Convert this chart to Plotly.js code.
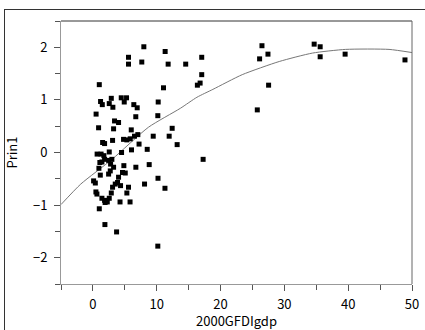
<!DOCTYPE html>
<html>
<head>
<meta charset="utf-8">
<script src="https://cdn.plot.ly/plotly-3.0.1.min.js"></script>
<style>
  html, body { margin: 0; padding: 0; background: #fff; }
  #wrap { position: relative; width: 425px; height: 330px; overflow: hidden; }
  #frame { position: absolute; left: 4px; top: 9px; width: 440px; height: 340px;
           border-left: 1px solid #333; border-top: 1px solid #333; pointer-events: none; }
  #chart { position: absolute; left: 0; top: 0; width: 425px; height: 330px; }
</style>
</head>
<body>
<div id="wrap">
  <div id="chart"></div>
  <div id="frame"></div>
</div>
<script>
// Scatter data: x = 2000GFDIgdp, y = Prin1
const gfdi = [7.98, 11.32, 5.58, 5.58, 7.66, 11.79, 14.54, 17.05, 17.05, 16.80,
  16.37, 11.06, 1.00, 1.20, 1.47, 2.88, 2.56, 3.13, 4.44, 5.27,
  4.91, 6.41, 6.94, 10.23, 0.50, 6.72, 10.17, 3.39, 4.02, 0.89,
  3.24, 6.01, 12.42, 9.45, 11.95, 6.52, 7.04, 4.80, 5.32, 5.85,
  3.08, 1.52, 1.83, 7.23, 13.20, 6.05, 2.56, 4.49, 8.51, 0.66,
  1.28, 1.72, 1.83, 2.46, 2.97, 1.41, 17.27, 1.09, 2.77, 4.85,
  8.82, 6.73, 3.24, 0.94, 2.72, 2.46, 4.64, 5.07, 1.16, 0.11,
  0.38, 4.02, 3.86, 3.50, 3.08, 4.33, 5.58, 8.09, 10.20, 11.29,
  0.47, 0.63, 2.88, 5.32, 1.41, 1.83, 2.25, 2.56, 1.91, 4.25,
  5.82, 1.00, 1.88, 3.71, 10.17, 26.49, 27.43, 26.12, 27.53, 25.76,
  34.67, 35.61, 35.61, 39.52, 48.90];
const prin1 = [2.01, 1.92, 1.81, 1.68, 1.72, 1.68, 1.68, 1.81, 1.48, 1.32,
  1.28, 1.23, 1.29, 0.97, 0.91, 1.03, 0.93, 0.86, 1.04, 1.04,
  0.96, 0.91, 0.85, 0.96, 0.73, 0.68, 0.70, 0.60, 0.57, 0.47,
  0.45, 0.43, 0.46, 0.31, 0.31, 0.31, 0.34, 0.25, 0.24, 0.26,
  0.23, 0.19, 0.17, 0.16, 0.15, 0.05, 0.01, 0.00, 0.06, -0.03,
  -0.03, -0.06, -0.13, -0.15, -0.13, -0.18, -0.13, -0.19, -0.22, -0.25,
  -0.23, -0.28, -0.28, -0.30, -0.35, -0.41, -0.38, -0.39, -0.43, -0.54,
  -0.58, -0.47, -0.57, -0.60, -0.66, -0.63, -0.66, -0.60, -0.49, -0.68,
  -0.75, -0.79, -0.77, -0.77, -0.87, -0.91, -0.94, -0.87, -0.95, -0.94,
  -0.94, -1.07, -1.37, -1.51, -1.78, 2.03, 1.87, 1.78, 1.28, 0.81,
  2.06, 2.01, 1.82, 1.87, 1.76];

// Fitted smooth curve
const fitX = [-5, -1.9, 3.0, 8.7, 13.7, 16.3, 18.8, 23.4, 29.2, 34.4, 39.6, 46.4, 50];
const fitY = [-0.99, -0.60, -0.13, 0.48, 0.84, 1.05, 1.20, 1.48, 1.73, 1.89, 1.96, 1.96, 1.90];

const xTickVals = [0, 10, 20, 30, 40, 50];
const yTickVals = [-2, -1, 0, 1, 2];

const fontFam = '"Noto Sans CJK JP", "DejaVu Sans", sans-serif';

const traces = [
  {
    x: fitX, y: fitY, type: 'scatter', mode: 'lines',
    line: { color: '#777777', width: 1, shape: 'spline', smoothing: 0.6 },
    hoverinfo: 'skip', showlegend: false
  },
  {
    x: gfdi, y: prin1, type: 'scatter', mode: 'markers',
    marker: { symbol: 'square', size: 5, color: '#000000' },
    showlegend: false
  }
];

const layout = {
  width: 425, height: 330,
  margin: { l: 61, r: 13, t: 21, b: 46, pad: 0 },
  paper_bgcolor: '#ffffff', plot_bgcolor: '#ffffff',
  font: { family: fontFam, size: 13, color: '#000' },
  showlegend: false,
  xaxis: {
    range: [-5, 50], tickmode: 'array', tickvals: xTickVals,
    ticks: 'outside', ticklen: 6, tickcolor: '#555', tickwidth: 1,
    minor: { tickmode: 'linear', tick0: -5, dtick: 5, ticks: 'outside', ticklen: 5, tickcolor: '#555' },
    showline: true, linecolor: '#999', linewidth: 1,
    showgrid: false, zeroline: false,
    ticklabelstandoff: 2,
    tickfont: { family: fontFam, size: 13, color: '#000' },
    title: { text: '2000GFDIgdp', font: { family: fontFam, size: 13, color: '#000' }, standoff: 1 }
  },
  yaxis: {
    range: [-2.5, 2.5], tickmode: 'array', tickvals: yTickVals,
    ticks: 'outside', ticklen: 6, tickcolor: '#555', tickwidth: 1,
    minor: { tickmode: 'linear', tick0: -2.5, dtick: 0.5, ticks: 'outside', ticklen: 5, tickcolor: '#555' },
    showline: true, linecolor: '#999', linewidth: 1,
    showgrid: false, zeroline: false,
    ticklabelstandoff: 4,
    tickfont: { family: fontFam, size: 13, color: '#000' },
    title: { text: 'Prin1', font: { family: fontFam, size: 13, color: '#000' }, standoff: 12 }
  },
  shapes: [
    { type: 'line', xref: 'paper', yref: 'paper', x0: 0, x1: 1, y0: 1, y1: 1,
      line: { color: '#333', width: 1 } },
    { type: 'line', xref: 'paper', yref: 'paper', x0: 1, x1: 1, y0: 0, y1: 1,
      line: { color: '#666', width: 1 } }
  ]
};

Plotly.newPlot('chart', traces, layout, { staticPlot: true, displayModeBar: false });
</script>
</body>
</html>
